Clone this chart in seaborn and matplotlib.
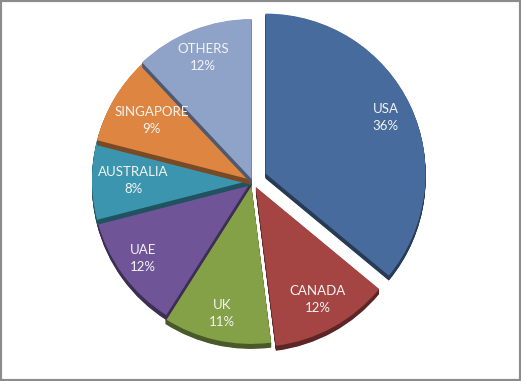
import math
import matplotlib
matplotlib.use("Agg")
import matplotlib.pyplot as plt
import seaborn as sns
from matplotlib.colors import to_rgb
from matplotlib.patches import Rectangle

# Share of students by destination country
countries = ["USA", "CANADA", "UK", "UAE", "AUSTRALIA", "SINGAPORE", "OTHERS"]
shares = [36, 12, 11, 12, 8, 9, 12]
palette = ["#476b9c", "#a54543", "#84a148", "#6f5597", "#3c95ae", "#de8641", "#8fa3c9"]

sns.set_theme(style="white")
plt.rcParams["font.family"] = ["Lato", "DejaVu Sans"]

W, H = 521, 381
fig = plt.figure(figsize=(W / 100, H / 100), dpi=100)
ax = fig.add_axes([0, 0, 1, 1])

radius = 160
center = (252, 201)
explode = [15, 8, 4, 0, 0, 0, 1]
label_radius = [0.83, 0.80, 0.83, 0.84, 0.74, 0.73, 0.82]
depth = 5


def darker(c, f=0.55):
    r, g, b = to_rgb(c)
    return (r * f, g * f, b * f)


shade = [darker(c) for c in palette]

# top faces of the slices
wedges, texts = ax.pie(
    shares,
    explode=explode,
    colors=palette,
    labels=[f"{c}\n{v}%" for c, v in zip(countries, shares)],
    startangle=90,
    counterclock=False,
    radius=radius,
    center=center,
    wedgeprops=dict(linewidth=0),
    textprops=dict(color="#f4f4f4", fontsize=9.5),
)

# stacking order: slices lower on the page first, so each slab overlaps the one below
mids = [math.sin(math.radians(0.5 * (w.theta1 + w.theta2))) for w in wedges]
rank = {i: r for r, i in enumerate(sorted(range(len(wedges)), key=lambda i: mids[i]))}
for i, w in enumerate(wedges):
    w.set_zorder(10 + 2 * rank[i] + 1)

# extruded sides: darker copies stepped downward
for k in range(1, 2 * depth + 1):
    side, _ = ax.pie(
        shares,
        explode=explode,
        colors=shade,
        startangle=90,
        counterclock=False,
        radius=radius,
        center=(center[0], center[1] - 0.5 * k),
        wedgeprops=dict(linewidth=0),
    )
    for i, w in enumerate(side):
        w.set_zorder(10 + 2 * rank[i])

# labels centred inside each slice
for w, t, d in zip(wedges, texts, label_radius):
    tm = math.radians(0.5 * (w.theta1 + w.theta2))
    cx, cy = w.center
    t.set_position((cx + d * w.r * math.cos(tm), cy + d * w.r * math.sin(tm)))
    t.set_horizontalalignment("center")
    t.set_verticalalignment("center")
    t.set_multialignment("center")
    t.set_linespacing(1.5)
    t.set_zorder(50)

ax.set_xlim(0, W)
ax.set_ylim(0, H)
ax.set_aspect("equal")
ax.axis("off")

fig.patches.append(
    Rectangle((0, 0), 1, 1, transform=fig.transFigure, fill=False,
              edgecolor="#8c8c8c", linewidth=3)
)

fig.savefig("out.png", dpi=100, facecolor="white")
